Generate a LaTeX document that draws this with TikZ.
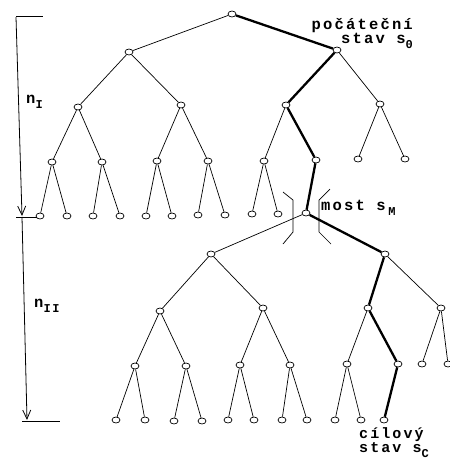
\documentclass[tikz,border=0pt]{standalone}
\usepackage{fontspec}
\setmainfont{Liberation Serif}
\newfontfamily\typefont{Liberation Mono}[LetterSpace=14]
\usetikzlibrary{arrows.meta,shapes.geometric}
\newcommand{\lowidx}[1]{\raisebox{-5pt}{\fontsize{12}{12}\selectfont #1}}
\tikzset{
  >={Straight Barb[length=9pt,width=8pt]},
  vertex/.style={ellipse, draw=black, fill=white, line width=0.7pt,
                 minimum width=8pt, minimum height=6pt, inner sep=0pt},
  branch/.style={draw=black, line width=0.7pt},
  solution/.style={draw=black, line width=2.3pt},
  bracket/.style={draw=black, line width=0.7pt},
  ruler/.style={->, draw=black, line width=0.8pt},
  endmark/.style={draw=black, line width=0.8pt},
  txt/.style={font=\typefont\bfseries\fontsize{15.5}{14}\selectfont,
              inner sep=0pt}
}

\begin{document}
\begin{tikzpicture}[x=1pt,y=-1pt]

\useasboundingbox (0,0) rectangle (450,459);

% ------------------------------------------------------------
% FIRST HALF: tree from the start state down to the bridge
% ------------------------------------------------------------
\node[vertex] (r) at (232,14) {};
\node[vertex] (a) at (129,52) {};
\node[vertex] (b) at (337,50) {};
\node[vertex] (aa) at (78,107) {};
\node[vertex] (ab) at (181,105) {};
\node[vertex] (ba) at (286,105) {};
\node[vertex] (bb) at (380,104) {};
\node[vertex] (aaa) at (52,162) {};
\node[vertex] (aab) at (102,162) {};
\node[vertex] (aba) at (157,161) {};
\node[vertex] (abb) at (208,161) {};
\node[vertex] (baa) at (264,161) {};
\node[vertex] (bab) at (316,160) {};
\node[vertex] (bba) at (358,159) {};
\node[vertex] (bbb) at (405,159) {};
\node[vertex] (aaaa) at (40,216) {};
\node[vertex] (aaab) at (67,216) {};
\node[vertex] (aaba) at (93,216) {};
\node[vertex] (aabb) at (120,216) {};
\node[vertex] (abaa) at (146,216) {};
\node[vertex] (abab) at (172,216) {};
\node[vertex] (abba) at (198,215) {};
\node[vertex] (abbb) at (225,215) {};
\node[vertex] (baaa) at (252,214) {};
\node[vertex] (baab) at (278,214) {};
\node[vertex] (m) at (306,213) {};

\draw[branch] (r) -- (a);
\draw[branch] (a) -- (aa);
\draw[branch] (a) -- (ab);
\draw[branch] (b) -- (bb);
\draw[branch] (aa) -- (aaa);
\draw[branch] (aa) -- (aab);
\draw[branch] (ab) -- (aba);
\draw[branch] (ab) -- (abb);
\draw[branch] (ba) -- (baa);
\draw[branch] (bb) -- (bba);
\draw[branch] (bb) -- (bbb);
\draw[branch] (aaa) -- (aaaa);
\draw[branch] (aaa) -- (aaab);
\draw[branch] (aab) -- (aaba);
\draw[branch] (aab) -- (aabb);
\draw[branch] (aba) -- (abaa);
\draw[branch] (aba) -- (abab);
\draw[branch] (abb) -- (abba);
\draw[branch] (abb) -- (abbb);
\draw[branch] (baa) -- (baaa);
\draw[branch] (baa) -- (baab);

% solution path, first half
\draw[solution] (r) -- (b);
\draw[solution] (b) -- (ba);
\draw[solution] (ba) -- (bab);
\draw[solution] (bab) -- (m);

% ------------------------------------------------------------
% SECOND HALF: tree from the bridge down to the goal state
% ------------------------------------------------------------
\node[vertex] (c) at (211,254) {};
\node[vertex] (d) at (385,254) {};
\node[vertex] (ca) at (160,311) {};
\node[vertex] (cb) at (263,308) {};
\node[vertex] (da) at (368,308) {};
\node[vertex] (db) at (441,308) {};
\node[vertex] (caa) at (135,366) {};
\node[vertex] (cab) at (186,366) {};
\node[vertex] (cba) at (240,365) {};
\node[vertex] (cbb) at (290,365) {};
\node[vertex] (daa) at (347,364) {};
\node[vertex] (dab) at (398,364) {};
\node[vertex] (dba) at (422,364) {};
\node[vertex] (dbb) at (448,364) {};
\node[vertex] (caaa) at (116,420) {};
\node[vertex] (caab) at (145,420) {};
\node[vertex] (caba) at (174,421) {};
\node[vertex] (cabb) at (202,421) {};
\node[vertex] (cbaa) at (228,420) {};
\node[vertex] (cbab) at (254,420) {};
\node[vertex] (cbba) at (282,420) {};
\node[vertex] (cbbb) at (307,420) {};
\node[vertex] (daaa) at (335,420) {};
\node[vertex] (daab) at (361,420) {};
\node[vertex] (g) at (384,420) {};

\draw[branch] (m) -- (c);
\draw[branch] (c) -- (ca);
\draw[branch] (c) -- (cb);
\draw[branch] (d) -- (db);
\draw[branch] (ca) -- (caa);
\draw[branch] (ca) -- (cab);
\draw[branch] (cb) -- (cba);
\draw[branch] (cb) -- (cbb);
\draw[branch] (da) -- (daa);
\draw[branch] (db) -- (dba);
\draw[branch] (db) -- (dbb);
\draw[branch] (caa) -- (caaa);
\draw[branch] (caa) -- (caab);
\draw[branch] (cab) -- (caba);
\draw[branch] (cab) -- (cabb);
\draw[branch] (cba) -- (cbaa);
\draw[branch] (cba) -- (cbab);
\draw[branch] (cbb) -- (cbba);
\draw[branch] (cbb) -- (cbbb);
\draw[branch] (daa) -- (daaa);
\draw[branch] (daa) -- (daab);

% solution path, second half
\draw[solution] (m) -- (d);
\draw[solution] (d) -- (da);
\draw[solution] (da) -- (dab);
\draw[solution] (dab) -- (g);

% brackets round the bridge
\draw[bracket] (283,192) -- (293,200) -- (293,232) -- (283,244);
\draw[bracket] (330,189) -- (319,200) -- (319,232) -- (331,244);

% ------------------------------------------------------------
% DEPTH RULERS
% ------------------------------------------------------------
\coordinate (upTop) at (16,17);
\coordinate (upBot) at (22,216);
\coordinate (loTop) at (22,217);
\coordinate (loBot) at (27,420);

\draw[endmark] (16,16) -- (43,16);
\draw[endmark] (16,217) -- (37,217);
\draw[endmark] (22,421) -- (60,421);
\draw[ruler] (upTop) -- (upBot);
\draw[ruler] (loTop) -- (loBot);

\node[txt, anchor=west] (nI) at (26,102) {n\lowidx{I}};
\node[txt, anchor=west] (nII) at (34,306) {n\lowidx{II}};

% ------------------------------------------------------------
% STATE LABELS
% ------------------------------------------------------------
\node[txt, anchor=north east, align=right] (start) at (413,18)
{počáteční\\stav s\lowidx{0}};
\node[txt, anchor=west] (bridge) at (321,208) {most s\,\lowidx{M}};
\node[txt, anchor=north west, align=left,
      font=\typefont\bfseries\fontsize{15}{13}\selectfont] (goal) at (359,427)
{cílový\\ stav s\lowidx{C}};

\end{tikzpicture}
\end{document}
